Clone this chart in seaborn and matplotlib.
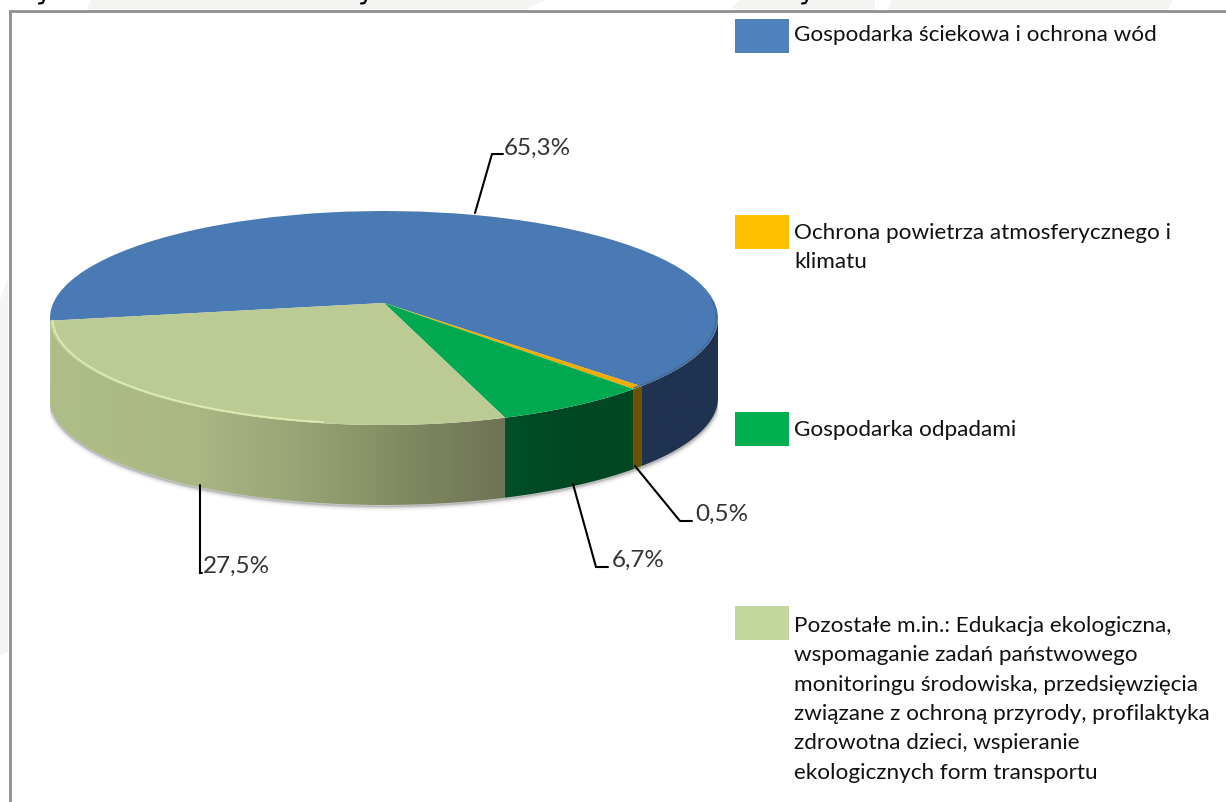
import numpy as np
import matplotlib
matplotlib.use("Agg")
import matplotlib.pyplot as plt
import seaborn as sns
from matplotlib.transforms import Transform
from matplotlib.patches import Polygon, Rectangle
from matplotlib.colors import LinearSegmentedColormap

categories = [
    "Gospodarka ściekowa i ochrona wód",
    "Ochrona powietrza atmosferycznego i\nklimatu",
    "Gospodarka odpadami",
    "Pozostałe m.in.: Edukacja ekologiczna,\nwspomaganie zadań państwowego\nmonitoringu środowiska, przedsięwzięcia\nzwiązane z ochroną przyrody, profilaktyka\nzdrowotna dzieci, wspieranie\nekologicznych form transportu",
]
values = [65.3, 0.5, 6.7, 27.5]
top_colors = ["#4a7ab4", "#f2ac00", "#00a84f", "#bccb93"]
legend_colors = ["#4f81bd", "#ffc000", "#00b050", "#c3d69b"]

sns.set_theme(style="white")
plt.rcParams["font.family"] = ["Lato", "DejaVu Sans"]

W, H = 1226, 802
fig = plt.figure(figsize=(W / 100, H / 100), dpi=100, facecolor="white")

# pie axes: the unit disc fills the ellipse of the top face, extra room below for the wall
ex0, ex1, ey0, RY = 50, 718, 211, 107
YLOW = -1.95
ax_h = RY * (1 - YLOW)
ax = fig.add_axes([ex0 / W, 1 - (ey0 + ax_h) / H, (ex1 - ex0) / W, ax_h / H], zorder=1)
ax.patch.set_visible(False)

TILT = 15 / 107
DEPTH = 80 / 107


class Perspective(Transform):
    input_dims = output_dims = 2
    is_affine = False
    has_inverse = False

    def transform_non_affine(self, v):
        v = np.asarray(v, float)
        d = 1 + TILT * v[:, 1]
        return np.c_[v[:, 0] * np.sqrt(1 - TILT ** 2) / d, (v[:, 1] + TILT) / d]


persp = Perspective()
wedges, _ = ax.pie(values, colors=sns.color_palette(top_colors), startangle=189.5,
                   counterclock=False, wedgeprops=dict(linewidth=0))
for w in wedges:
    w.set_transform(persp + ax.transData)
    w.set_zorder(3)


def arc(t1, t2, r=1.0, n=400):
    t = np.radians(np.linspace(t1, t2, n))
    return persp.transform_non_affine(np.c_[r * np.cos(t), r * np.sin(t)])


wall_stops = [
    [(0, "#1f3350"), (1, "#1f3350")],
    [(0, "#7a5a00"), (1, "#6b5000")],
    [(0, "#00562a"), (0.68, "#00522a"), (0.72, "#004a24"), (1, "#00431f")],
    [(0, "#afbe87"), (0.22, "#aab783"), (0.37, "#98a475"), (0.52, "#828c63"), (0.68, "#6e7355"), (1, "#6e7355")],
]
for w, stops in zip(wedges, wall_stops):
    top = arc(w.theta1, w.theta2)
    idx = np.flatnonzero(top[:, 1] <= 0.0)
    cmap = LinearSegmentedColormap.from_list("wall", stops)
    for run in np.split(idx, np.flatnonzero(np.diff(idx) > 1) + 1):
        if len(run) < 2:
            continue
        front = top[run]
        bottom = front - [0, DEPTH]
        poly = Polygon(np.vstack([front, bottom[::-1]]), closed=True, transform=ax.transData,
                       facecolor="none", edgecolor="none")
        ax.add_patch(poly)
        im = ax.imshow(np.linspace(0, 1, 512)[None, :], cmap=cmap, vmin=0, vmax=1,
                       extent=[-1, 1, YLOW, 1], aspect="auto", zorder=2)
        im.set_clip_path(poly)

# soft shadow under the front rim
rim = arc(181, 359) - [0, DEPTH + 0.012]
for lw, alpha in [(10, 0.03), (7, 0.05), (5, 0.08), (3, 0.12), (1.5, 0.2)]:
    ax.plot(rim[:, 0], rim[:, 1], color="#555555", lw=lw * 0.72, alpha=alpha, zorder=1,
            solid_capstyle="round")

# bevel on the top face
pale, blue = wedges[3], wedges[0]
h = arc(pale.theta1, pale.theta1 + (pale.theta2 - pale.theta1) * 0.72, r=0.993)
ax.plot(h[:, 0], h[:, 1], color="#dcebb0", lw=1.3, zorder=4)
d = arc(360 - 47, 362, r=0.995)
ax.plot(d[:, 0], d[:, 1], color="#416a9b", lw=1.1, zorder=4)

ax.set_xlim(-1, 1)
ax.set_ylim(YLOW, 1)
ax.set_aspect("auto")
ax.axis("off")

# pixel-space overlay: frame, legend, labels
px = fig.add_axes([0, 0, 1, 1], zorder=2)
px.set_xlim(0, W)
px.set_ylim(H, 0)
px.axis("off")

for pts in [[(91, 0), (87, 9), (526, 9), (546, 0)],
            [(740, 0), (730, 9), (875, 9), (875, 0)],
            [(892, 0), (888, 9), (1168, 9), (1173, 0)],
            [(0, 300), (8, 277), (8, 652), (0, 655)]]:
    px.add_patch(Polygon(pts, closed=True, facecolor="#f4f4f2", edgecolor="none", zorder=0))
px.plot([10, 10, W], [H, 11, 11], color="#8e8e8e", lw=2, solid_joinstyle="miter", zorder=1)
# descender stubs of the cropped line above the frame
for x in [44, 366, 807]:
    px.plot([x, x - 1.5, x - 5], [0, 3, 3.5], color="black", lw=1.6, zorder=2)

swatch_y = [19, 215, 412, 606]
text_y = [36, 234, 431, 627]
for name, c, sy, ty in zip(categories, legend_colors, swatch_y, text_y):
    px.add_patch(Rectangle((734.5, sy), 54, 33.5, facecolor=c, edgecolor="none", zorder=2))
    px.text(794, ty - 11, name, fontsize=16.2, color="#111111", va="top", ha="left",
            linespacing=1.585, zorder=3)

labels = [f"{v:.1f}".replace(".", ",") + "%" for v in values]
label_xy = [(504, 148), (695, 514), (612, 560), (203, 566)]
leaders = [[(475, 213), (492, 154), (503, 154)],
           [(635, 466), (680, 521), (692, 521)],
           [(573, 484), (596, 567), (608, 567)],
           [(199.5, 485), (199.5, 573), (202, 573)]]
for lab, (x, y), pts in zip(labels, label_xy, leaders):
    px.text(x, y, lab, fontsize=17.5, color="#333333", va="center", ha="left", zorder=3)
    xs, ys = zip(*pts)
    px.plot(xs, ys, color="black", lw=1.5, zorder=3, solid_joinstyle="miter")

fig.savefig("out.png", dpi=100, facecolor="white")
